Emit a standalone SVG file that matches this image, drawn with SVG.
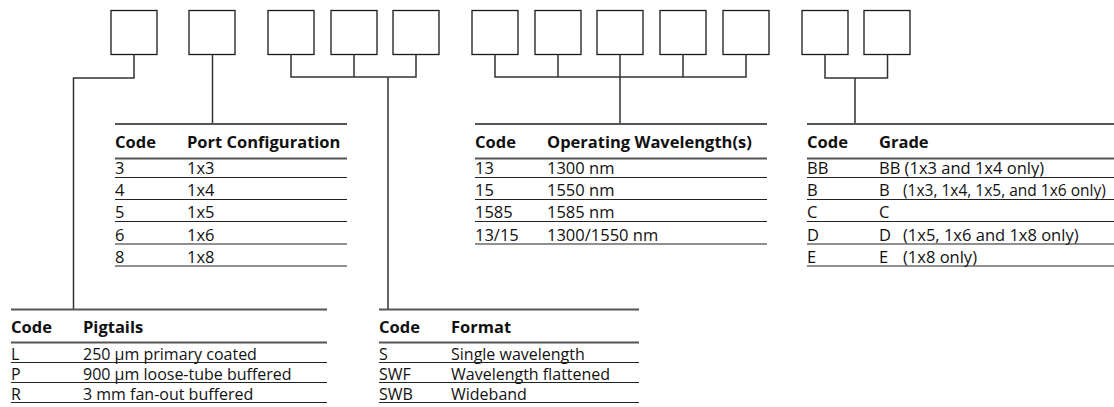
<svg xmlns="http://www.w3.org/2000/svg" width="1114" height="407" viewBox="0 0 1114 407">
<style>
.box{fill:#fff;stroke:#1a1a1a;stroke-width:1.3}
.conn{fill:none;stroke:#333;stroke-width:1.5}
.thick{stroke:#555;stroke-width:1.8}
.rule{stroke:#222;stroke-width:1.1}
text{font-family:"Open Sans","Noto Sans",sans-serif;font-size:16.5px;fill:#111}
.h{font-weight:bold}
.lo{font-size:16px}
.nar{font-size:15.5px}
</style>
<rect width="1114" height="407" fill="#fff"/>
<g id="box1"><rect class="box" x="111" y="10.5" width="46" height="44"/></g>
<g id="box2"><rect class="box" x="189" y="10.5" width="46" height="44"/></g>
<g id="box3"><rect class="box" x="268" y="10.5" width="46" height="44"/></g>
<g id="box4"><rect class="box" x="331" y="10.5" width="46" height="44"/></g>
<g id="box5"><rect class="box" x="393" y="10.5" width="46" height="44"/></g>
<g id="box6"><rect class="box" x="472" y="10.5" width="46" height="44"/></g>
<g id="box7"><rect class="box" x="535" y="10.5" width="46" height="44"/></g>
<g id="box8"><rect class="box" x="597" y="10.5" width="46" height="44"/></g>
<g id="box9"><rect class="box" x="660" y="10.5" width="46" height="44"/></g>
<g id="box10"><rect class="box" x="723" y="10.5" width="46" height="44"/></g>
<g id="box11"><rect class="box" x="802" y="10.5" width="46" height="44"/></g>
<g id="box12"><rect class="box" x="864" y="10.5" width="46" height="44"/></g>
<g id="connectors" class="conn">
<path d="M134 54.5V78H73.5V309"/>
<path d="M212.5 54.5V124"/>
<path d="M291 54.5V77H416V54.5M354 54.5V77M388 77V309"/>
<path d="M495 54.5V77H746V54.5M558 54.5V77M620 54.5V124M683 54.5V77"/>
<path d="M825 54.5V78H887.5V54.5M855 78V124"/>
</g>
<g id="table-port">
<line class="thick" x1="115" y1="124" x2="347" y2="124"/>
<text class="h" x="115" y="148">Code</text><text class="h" x="187" y="148">Port Configuration</text>
<line class="thick" x1="115" y1="158.5" x2="347" y2="158.5"/>
<text x="115" y="174">3</text><text x="187" y="174">1x3</text>
<line class="rule" x1="115" y1="177.5" x2="347" y2="177.5"/>
<text x="115" y="196">4</text><text x="187" y="196">1x4</text>
<line class="rule" x1="115" y1="199.5" x2="347" y2="199.5"/>
<text x="115" y="218">5</text><text x="187" y="218">1x5</text>
<line class="rule" x1="115" y1="221.5" x2="347" y2="221.5"/>
<text x="115" y="240.5">6</text><text x="187" y="240.5">1x6</text>
<line class="rule" x1="115" y1="244" x2="347" y2="244"/>
<text x="115" y="262.5">8</text><text x="187" y="262.5">1x8</text>
<line class="rule" x1="115" y1="266" x2="347" y2="266"/>
</g>
<g id="table-wavelength">
<line class="thick" x1="475" y1="124" x2="767" y2="124"/>
<text class="h" x="475" y="148">Code</text><text class="h" x="547" y="148">Operating Wavelength(s)</text>
<line class="thick" x1="475" y1="158.5" x2="767" y2="158.5"/>
<text x="475" y="174">13</text><text x="547" y="174">1300 nm</text>
<line class="rule" x1="475" y1="177.5" x2="767" y2="177.5"/>
<text x="475" y="196">15</text><text x="547" y="196">1550 nm</text>
<line class="rule" x1="475" y1="199.5" x2="767" y2="199.5"/>
<text x="475" y="218">1585</text><text x="547" y="218">1585 nm</text>
<line class="rule" x1="475" y1="221.5" x2="767" y2="221.5"/>
<text x="475" y="240.5">13/15</text><text x="547" y="240.5">1300/1550 nm</text>
<line class="rule" x1="475" y1="244" x2="767" y2="244"/>
</g>
<g id="table-grade">
<line class="thick" x1="807" y1="124" x2="1114" y2="124"/>
<text class="h" x="807" y="148">Code</text><text class="h" x="879" y="148">Grade</text>
<line class="thick" x1="807" y1="158.5" x2="1114" y2="158.5"/>
<text x="807" y="174">BB</text><text x="879" y="174">BB (1x3 and 1x4 only)</text>
<line class="rule" x1="807" y1="177.5" x2="1114" y2="177.5"/>
<text x="807" y="196">B</text><text x="879" y="196">B</text><text class="nar" x="903" y="196">(1x3, 1x4, 1x5, and 1x6 only)</text>
<line class="rule" x1="807" y1="199.5" x2="1114" y2="199.5"/>
<text x="807" y="218">C</text><text x="879" y="218">C</text>
<line class="rule" x1="807" y1="221.5" x2="1114" y2="221.5"/>
<text x="807" y="240.5">D</text><text x="879" y="240.5">D</text><text x="903" y="240.5">(1x5, 1x6 and 1x8 only)</text>
<line class="rule" x1="807" y1="244" x2="1114" y2="244"/>
<text x="807" y="262.5">E</text><text x="879" y="262.5">E</text><text x="903" y="262.5">(1x8 only)</text>
<line class="rule" x1="807" y1="266" x2="1114" y2="266"/>
</g>
<g id="table-pigtails">
<line class="thick" x1="11" y1="309.5" x2="327" y2="309.5"/>
<text class="h" x="11" y="333">Code</text><text class="h" x="83" y="333">Pigtails</text>
<line class="thick" x1="11" y1="342.5" x2="327" y2="342.5"/>
<text class="lo" x="11" y="359.5">L</text><text class="lo" x="83" y="359.5">250 µm primary coated</text>
<line class="rule" x1="11" y1="362.5" x2="327" y2="362.5"/>
<text class="lo" x="11" y="379.5">P</text><text class="lo" x="83" y="379.5">900 µm loose-tube buffered</text>
<line class="rule" x1="11" y1="382.5" x2="327" y2="382.5"/>
<text class="lo" x="11" y="399.5">R</text><text class="lo" x="83" y="399.5">3 mm fan-out buffered</text>
<line class="rule" x1="11" y1="402.5" x2="327" y2="402.5"/>
</g>
<g id="table-format">
<line class="thick" x1="379" y1="309.5" x2="639" y2="309.5"/>
<text class="h" x="379" y="333">Code</text><text class="h" x="451" y="333">Format</text>
<line class="thick" x1="379" y1="342.5" x2="639" y2="342.5"/>
<text class="lo" x="379" y="359.5">S</text><text class="lo" x="451" y="359.5">Single wavelength</text>
<line class="rule" x1="379" y1="362.5" x2="639" y2="362.5"/>
<text class="lo" x="379" y="379.5">SWF</text><text class="lo" x="451" y="379.5">Wavelength flattened</text>
<line class="rule" x1="379" y1="382.5" x2="639" y2="382.5"/>
<text class="lo" x="379" y="399.5">SWB</text><text class="lo" x="451" y="399.5">Wideband</text>
<line class="rule" x1="379" y1="402.5" x2="639" y2="402.5"/>
</g>
</svg>
